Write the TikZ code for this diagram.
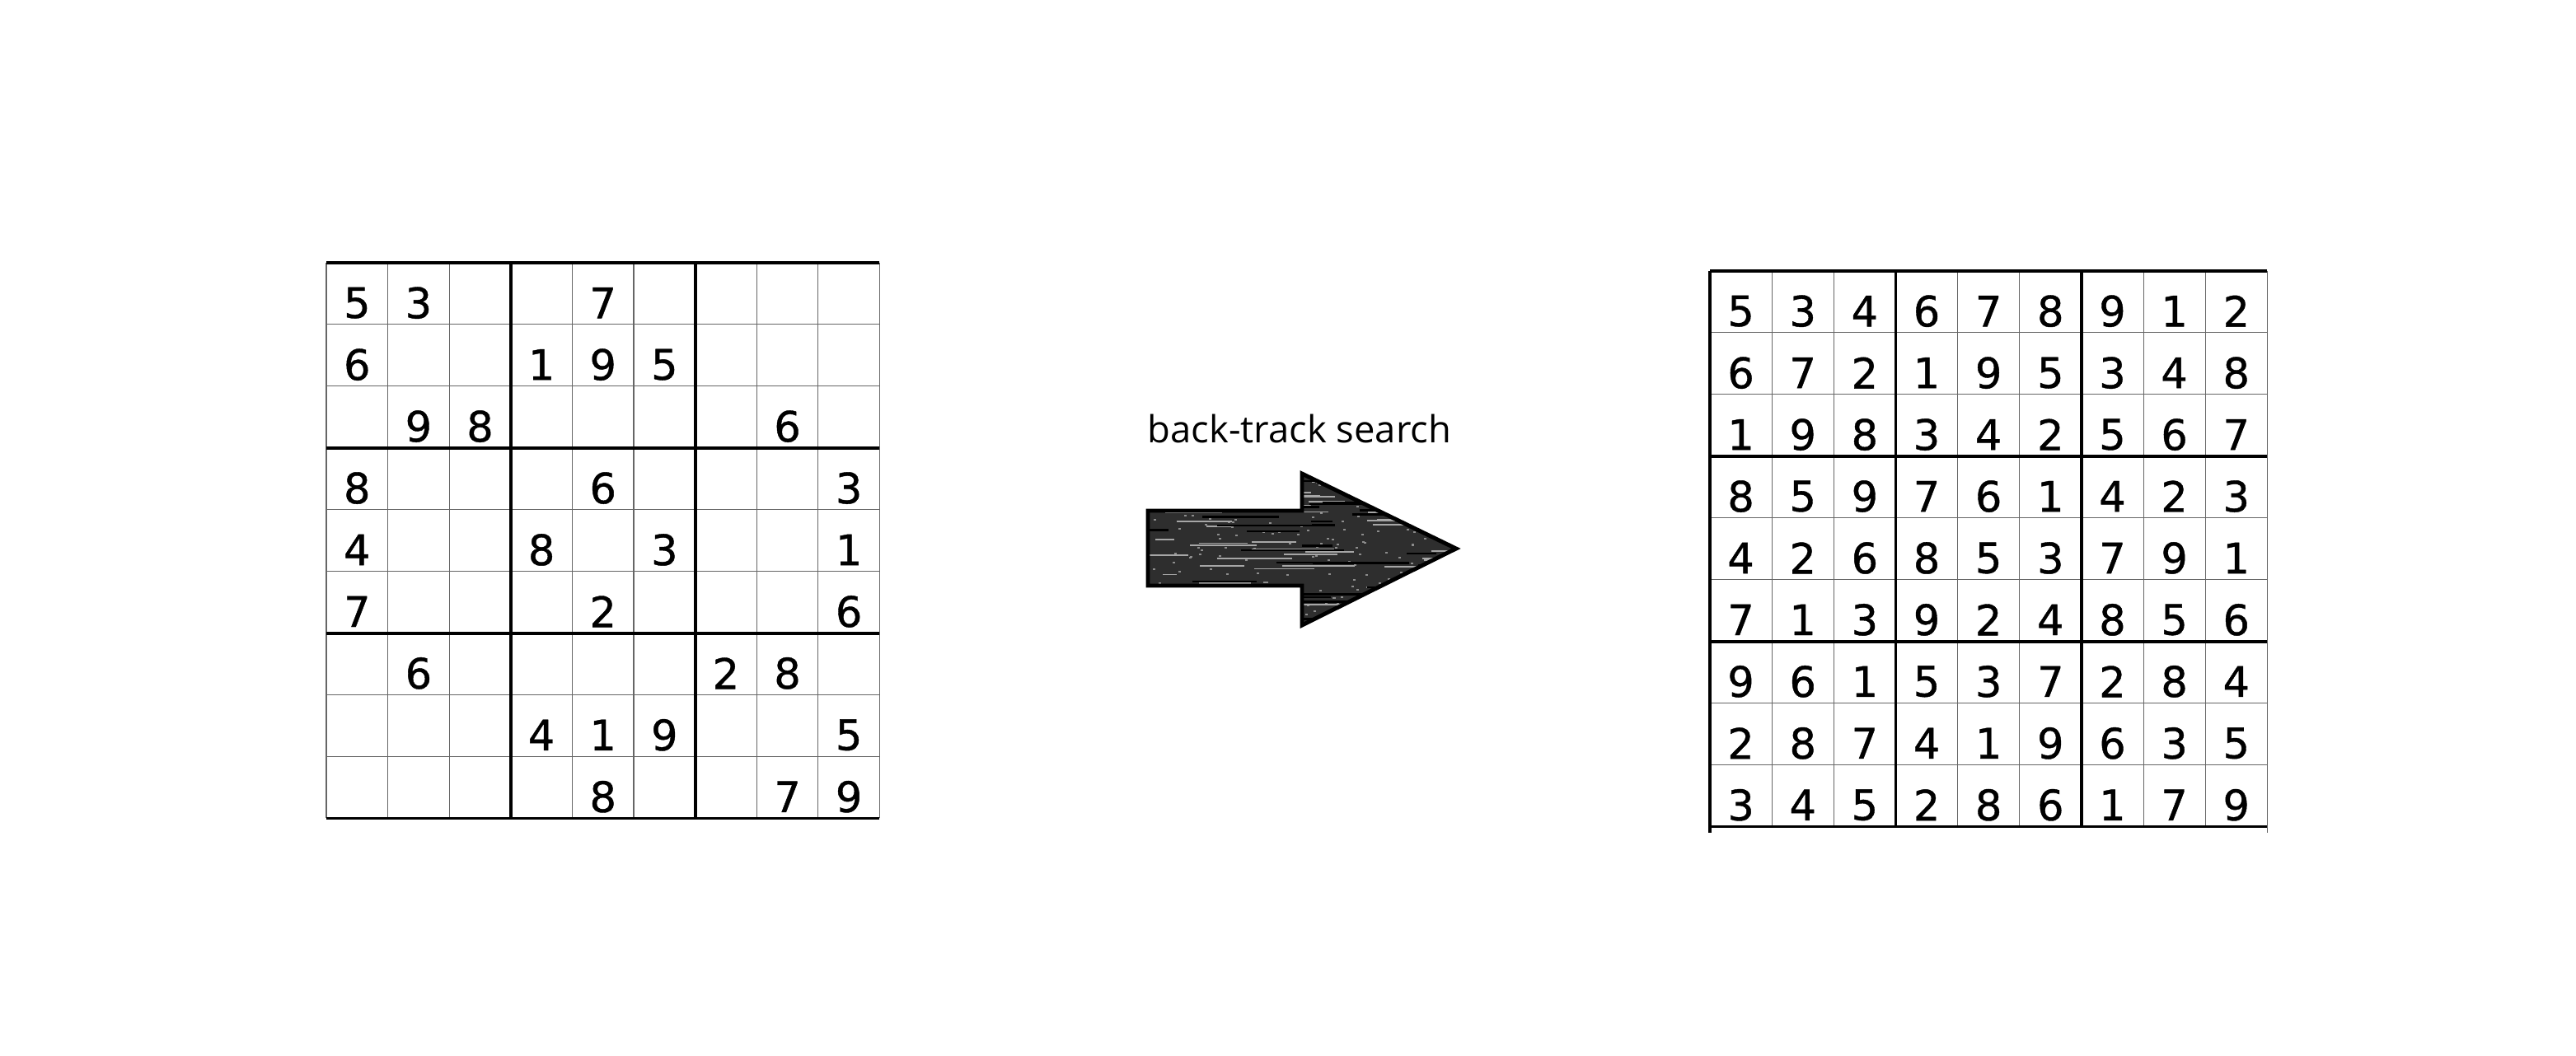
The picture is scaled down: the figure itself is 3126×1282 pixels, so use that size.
\documentclass[tikz,border=0pt]{standalone}
\usepackage{fontspec}
\setmainfont{Open Sans}
\newfontfamily\digitfont[FakeBold=0.8]{DejaVu Sans}
\usepackage{tikz}
\usetikzlibrary{positioning}
\tikzstyle{thin line} = [black!60, line width=0.3pt]
\tikzstyle{box line} = [black, line width=1.1pt]
\tikzstyle{cell digit} = [font=\digitfont\fontsize{14.5}{16}\selectfont, inner sep=0pt]
\tikzstyle{caption text} = [font=\fontsize{12.9}{15}\selectfont, inner sep=0pt, anchor=base]
\tikzstyle{block arrow} = [draw=black, line width=1.4pt, line join=miter]

\begin{document}
\begin{tikzpicture}[x=0.01cm, y=-0.01cm]
    \useasboundingbox (0,0) rectangle (3126,1282);

    % puzzle
    \begin{scope}[shift={(396,319)}, x=0.7456cm, y=-0.749cm]
        \foreach \i in {1,2,4,5,7,8} {
            \draw[thin line] (\i,0) -- (\i,9);
            \draw[thin line] (0,\i) -- (9,\i);
        }
        \draw[thin line] (0,0) -- (0,9) (9,0) -- (9,9);
        \foreach \i in {0,3,6,9} \draw[box line] (0,\i) -- (9,\i);
        \foreach \i in {3,6} \draw[box line] (\i,0) -- (\i,9);
        \foreach \row [count=\r] in {{5,3,0,0,7,0,0,0,0},{6,0,0,1,9,5,0,0,0},{0,9,8,0,0,0,0,6,0},
                                     {8,0,0,0,6,0,0,0,3},{4,0,0,8,0,3,0,0,1},{7,0,0,0,2,0,0,0,6},
                                     {0,6,0,0,0,0,2,8,0},{0,0,0,4,1,9,0,0,5},{0,0,0,0,8,0,0,7,9}} {
            \foreach \d [count=\c] in \row {
                \ifnum\d>0 \node[cell digit] (q-\r-\c) at (\c-0.5,\r-0.35) {\d}; \fi
            }
        }
    \end{scope}

    % arrow
    \coordinate (tip) at (1767,666);
    \begin{scope}
        \clip (1393,620) -- (1580,620) -- (1580,575) -- (tip) -- (1580,759) -- (1580,711) -- (1393,711) -- cycle;
        \fill[black!82] (1380,560) rectangle (1780,770);
        \pgfmathsetseed{17}
        \foreach \i in {1,...,260} {
            \pgfmathsetmacro\sx{1390+rnd*380}
            \pgfmathsetmacro\sy{576+rnd*186}
            \fill[black!45] (\sx,\sy) rectangle ++(3,2);
        }
        \foreach \i in {1,...,70} {
            \pgfmathsetmacro\sx{1390+rnd*360}
            \pgfmathsetmacro\sy{578+rnd*180}
            \pgfmathsetmacro\sl{15+rnd*90}
            \draw[black!35, line width=0.5pt] (\sx,\sy) -- ++(\sl,0);
        }
        \foreach \i in {1,...,40} {
            \pgfmathsetmacro\sx{1390+rnd*360}
            \pgfmathsetmacro\sy{578+rnd*180}
            \pgfmathsetmacro\sl{20+rnd*120}
            \draw[black, line width=0.7pt] (\sx,\sy) -- ++(\sl,0);
        }
    \end{scope}
    \draw[block arrow] (1393,620) -- (1580,620) -- (1580,575) -- (tip) -- (1580,759) -- (1580,711) -- (1393,711) -- cycle;
    \node[caption text] (search) at (1577,537) {back-track search};

    % solution
    \begin{scope}[shift={(2075,329)}, x=0.751cm, y=-0.749cm]
        \foreach \i in {1,2,4,5,7,8} {
            \draw[thin line] (\i,0) -- (\i,9);
            \draw[thin line] (0,\i) -- (9,\i);
        }
        \draw[thin line] (9,0) -- (9,9.1);
        \foreach \i in {0,3,6,9} \draw[box line] (0,\i) -- (9,\i);
        \draw[box line] (0,0) -- (0,9.1);
        \foreach \i in {3,6} \draw[box line] (\i,0) -- (\i,9);
        \foreach \row [count=\r] in {{5,3,4,6,7,8,9,1,2},{6,7,2,1,9,5,3,4,8},{1,9,8,3,4,2,5,6,7},
                                     {8,5,9,7,6,1,4,2,3},{4,2,6,8,5,3,7,9,1},{7,1,3,9,2,4,8,5,6},
                                     {9,6,1,5,3,7,2,8,4},{2,8,7,4,1,9,6,3,5},{3,4,5,2,8,6,1,7,9}} {
            \foreach \d [count=\c] in \row {
                \node[cell digit] (s-\r-\c) at (\c-0.5,\r-0.35) {\d};
            }
        }
    \end{scope}
\end{tikzpicture}
\end{document}
